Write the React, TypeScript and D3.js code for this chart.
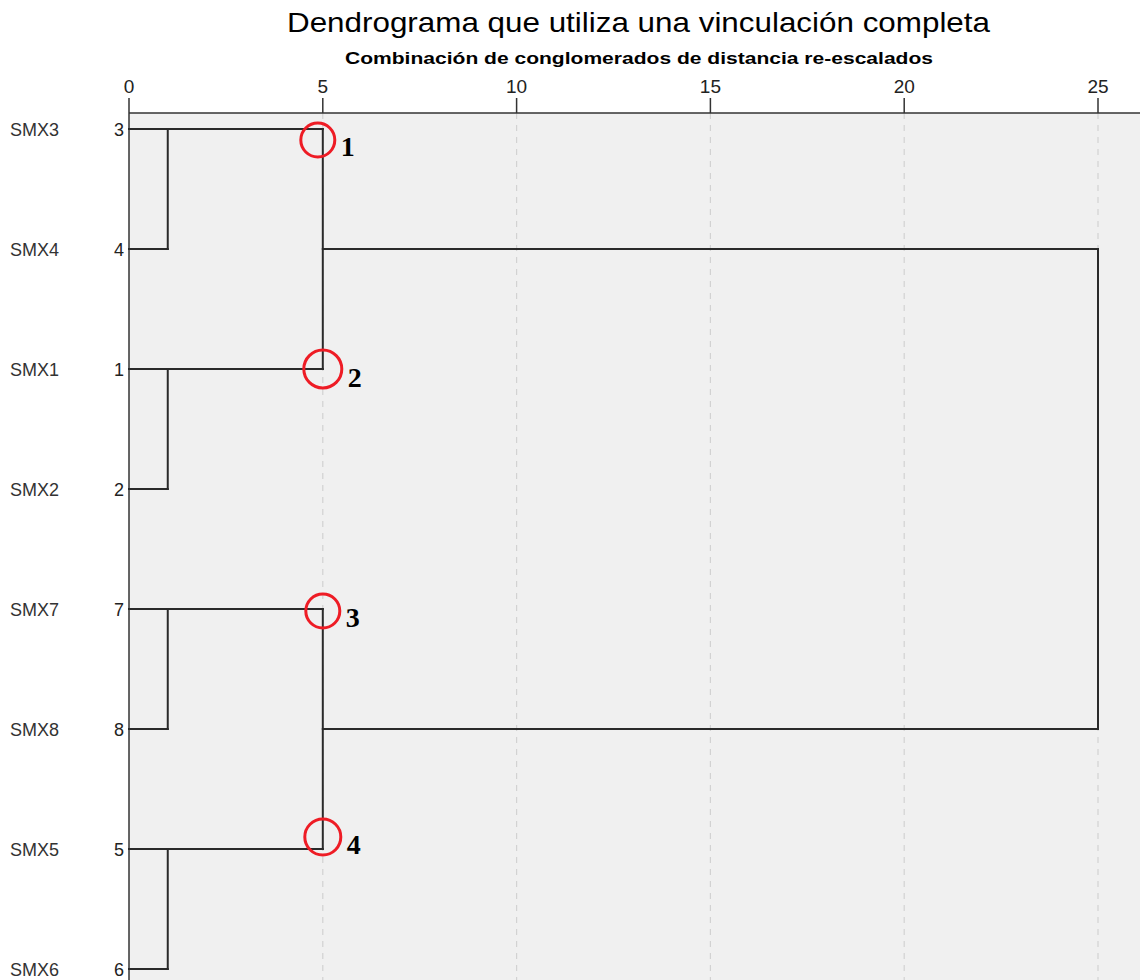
import { scaleLinear, scalePoint } from "d3";

// leaf order as drawn (top to bottom) and SPSS case numbers
const leaves = ["SMX3", "SMX4", "SMX1", "SMX2", "SMX7", "SMX8", "SMX5", "SMX6"];
const caseNumbers = [3, 4, 1, 2, 7, 8, 5, 6];

// agglomeration: clusters 0..7 are leaves, new clusters get 8, 9, ...
const linkLeft = [0, 2, 4, 6, 8, 10, 12];
const linkRight = [1, 3, 5, 7, 9, 11, 13];
const linkHeight = [1, 1, 1, 1, 5, 5, 25]; // re-scaled distance

const xTicks = [0, 5, 10, 15, 20, 25];

// red circles marking the four groups
const markLabels = ["1", "2", "3", "4"];
const markCluster = [8, 9, 10, 11];
const markDx = [-5, 0, 0, 0];
const markDy = [11, 0, 2, -12];
const markR = [17, 19, 17, 18];

const W = 1140;
const H = 980;
const left = 129;
const axisY = 113;

function App() {
  const x = scaleLinear().domain([0, 25]).range([left, 1098]);
  const y = scalePoint().domain(leaves).range([129, 969]);

  // members and positions for every cluster
  const members: number[][] = leaves.map((_, i) => [i]);
  const cx: number[] = leaves.map(() => x(0));
  const cy: number[] = leaves.map((l) => y(l) as number);
  const segs: { x1: number; y1: number; x2: number; y2: number }[] = [];

  linkLeft.forEach((a, i) => {
    const b = linkRight[i];
    const hx = x(linkHeight[i]);
    segs.push({ x1: cx[a], y1: cy[a], x2: hx, y2: cy[a] });
    segs.push({ x1: cx[b], y1: cy[b], x2: hx, y2: cy[b] });
    segs.push({ x1: hx, y1: cy[a], x2: hx, y2: cy[b] });
    const m = [...members[a], ...members[b]].sort(
      (p, q) => (y(leaves[p]) as number) - (y(leaves[q]) as number)
    );
    members.push(m);
    cx.push(hx);
    cy.push(y(leaves[m[Math.floor((m.length - 1) / 2)]]) as number);
  });

  const parentX = (c: number) => {
    const i = linkLeft.indexOf(c) >= 0 ? linkLeft.indexOf(c) : linkRight.indexOf(c);
    return x(linkHeight[i]);
  };

  return (
    <svg
      width={W}
      height={H}
      style={{ position: "absolute", left: 0, top: 0, background: "#fff" }}
      fontFamily="Arial, 'Liberation Sans', sans-serif"
    >
      <rect x={left} y={axisY} width={W - left} height={H - axisY} fill="#f0f0f0" />

      <text
        x={287}
        y={32}
        fontSize={28}
        fill="#000"
        textLength={703}
        lengthAdjust="spacingAndGlyphs"
      >
        Dendrograma que utiliza una vinculación completa
      </text>
      <text
        x={345}
        y={64}
        fontSize={17}
        fontWeight="bold"
        fill="#000"
        textLength={588}
        lengthAdjust="spacingAndGlyphs"
      >
        Combinación de conglomerados de distancia re-escalados
      </text>

      {xTicks.map((t) => (
        <g key={t}>
          {t > 0 && (
            <line
              x1={x(t)}
              x2={x(t)}
              y1={axisY}
              y2={H}
              stroke="#d2d2d2"
              strokeWidth={1.2}
              strokeDasharray="6,6"
            />
          )}
          <line x1={x(t)} x2={x(t)} y1={98} y2={axisY} stroke="#333" strokeWidth={1.5} />
          <text x={x(t)} y={93} textAnchor="middle" fontSize={19} fill="#222">
            {t}
          </text>
        </g>
      ))}
      <line x1={left} x2={W} y1={axisY} y2={axisY} stroke="#333" strokeWidth={1.5} />
      <line x1={left} x2={left} y1={axisY} y2={H} stroke="#333" strokeWidth={1.5} />

      {leaves.map((l, i) => (
        <g key={l}>
          <text x={10} y={(y(l) as number) + 7} fontSize={18} fill="#333">
            {l}
          </text>
          <text x={124} y={(y(l) as number) + 7} textAnchor="end" fontSize={18} fill="#222">
            {caseNumbers[i]}
          </text>
        </g>
      ))}

      {segs.map((s, i) => (
        <line
          key={i}
          x1={s.x1}
          y1={s.y1}
          x2={s.x2}
          y2={s.y2}
          stroke="#2a2a2a"
          strokeWidth={2}
          strokeLinecap="square"
        />
      ))}

      {markCluster.map((c, i) => {
        const px = parentX(c) + markDx[i];
        const py = cy[c] + markDy[i];
        return (
          <g key={c}>
            <circle cx={px} cy={py} r={markR[i]} fill="none" stroke="#ee1c25" strokeWidth={3} />
            <text
              x={px + markR[i] + 6}
              y={py + markR[i] - 1}
              fontFamily="'Liberation Serif', 'Times New Roman', serif"
              fontWeight="bold"
              fontSize={28}
              fill="#000"
            >
              {markLabels[i]}
            </text>
          </g>
        );
      })}
    </svg>
  );
}

export default App;
